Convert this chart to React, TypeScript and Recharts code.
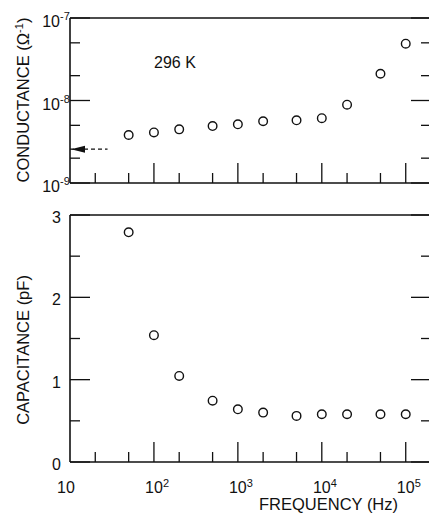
import { ScatterChart, Scatter, XAxis, YAxis, ReferenceLine, ReferenceDot } from "recharts";

const FONT = '"Liberation Sans", Arial, Helvetica, sans-serif';
const INK = "#111";

const frequencies = [50, 100, 200, 500, 1000, 2000, 5000, 10000, 20000, 50000, 100000];
const conductance = [3.82e-9, 4.1e-9, 4.47e-9, 4.9e-9, 5.15e-9, 5.6e-9, 5.75e-9, 6.1e-9, 8.9e-9, 2.11e-8, 4.88e-8];
const capacitance = [2.79, 1.54, 1.045, 0.745, 0.64, 0.6, 0.56, 0.58, 0.58, 0.58, 0.58];

const freqTicks = [10, 20, 50, 100, 200, 500, 1000, 2000, 5000, 10000, 20000, 50000, 100000];
const conductanceTicks = [1e-9, 2e-9, 5e-9, 1e-8, 2e-8, 5e-8, 1e-7];
const capacitanceTicks = [0, 0.5, 1, 1.5, 2, 2.5, 3];

// dc conductance arrow
const dcConductance = 2.57e-9;
const dcArrowTail = 28;

const freqDomain: [number, number] = [10, 2e5];
const conductanceDomain: [number, number] = [1e-9, 1e-7];
const capacitanceDomain: [number, number] = [0, 3];

const conductanceData = frequencies.map((f, i) => ({ f, g: conductance[i] }));
const capacitanceData = frequencies.map((f, i) => ({ f, c: capacitance[i] }));

const MAJOR = 20;
const MINOR = 10;

const isDecade = (v: number) =>
  v > 0 && Math.abs(Math.log10(v) - Math.round(Math.log10(v))) < 1e-6;

function OpenCircle({ cx, cy }: any) {
  if (cx == null || cy == null) return null;
  return <circle cx={cx} cy={cy} r={4.3} fill="#fff" stroke={INK} strokeWidth={1.4} />;
}

function FreqTick({ x, y, payload, side, labels }: any) {
  const v = payload.value;
  const major = isDecade(v);
  const dir = side === "top" ? 1 : -1;
  const exp = Math.round(Math.log10(v));
  return (
    <g>
      {v !== freqDomain[0] && (
        <line x1={x} x2={x} y1={y} y2={y + dir * (major ? MAJOR : MINOR)} stroke={INK} strokeWidth={1.3} />
      )}
      {labels && major && exp === 1 && (
        <text x={x - 4} y={y + 31} textAnchor="middle" fontSize={16} fontFamily={FONT} fill={INK}>10</text>
      )}
      {labels && major && exp > 1 && (
        <g>
          <text x={x} y={y + 31} textAnchor="middle" fontSize={16} fontFamily={FONT} fill={INK}>10</text>
          <text x={x + 9} y={y + 25} textAnchor="start" fontSize={11} fontFamily={FONT} fill={INK}>{exp}</text>
        </g>
      )}
    </g>
  );
}

function LogYTick({ x, y, payload, side, labels }: any) {
  const v = payload.value;
  const major = isDecade(v);
  const dir = side === "left" ? 1 : -1;
  const exp = Math.round(Math.log10(v));
  return (
    <g>
      <line x1={x} x2={x + dir * (major ? MAJOR : MINOR)} y1={y} y2={y} stroke={INK} strokeWidth={1.3} />
      {labels && major && (
        <g>
          <text x={x - 10} y={y + 9} textAnchor="end" fontSize={16} fontFamily={FONT} fill={INK}>10</text>
          <text x={x - 10} y={y + 2} textAnchor="start" fontSize={11} fontFamily={FONT} fill={INK}>{exp}</text>
        </g>
      )}
    </g>
  );
}

function LinYTick({ x, y, payload, side, labels }: any) {
  const v = payload.value;
  const major = Number.isInteger(v);
  const dir = side === "left" ? 1 : -1;
  return (
    <g>
      <line x1={x} x2={x + dir * (major ? MAJOR : MINOR)} y1={y} y2={y} stroke={INK} strokeWidth={1.3} />
      {labels && major && (
        <text x={x - 9} y={y + 8} textAnchor="end" fontSize={16} fontFamily={FONT} fill={INK}>{v}</text>
      )}
    </g>
  );
}

function ArrowHead({ cx, cy }: any) {
  if (cx == null || cy == null) return null;
  return <polygon points={`${cx + 1},${cy} ${cx + 15},${cy - 3.5} ${cx + 15},${cy + 3.5}`} fill={INK} />;
}

function ConductanceTitle() {
  return (
    <text x={29} y={100} transform="rotate(-90 29 100)" textAnchor="middle" fontSize={16.5} fontFamily={FONT} fill={INK}>
      CONDUCTANCE (Ω<tspan dy={-6} fontSize={11}>-1</tspan><tspan dy={6}>)</tspan>
    </text>
  );
}

function CapacitanceTitle() {
  return (
    <text x={29} y={150} transform="rotate(-90 29 150)" textAnchor="middle" fontSize={16.5} fontFamily={FONT} fill={INK}>
      CAPACITANCE (pF)
    </text>
  );
}

function TemperatureNote() {
  return <text x={154} y={68} fontSize={16} fontFamily={FONT} fill={INK}>296 K</text>;
}

function FrequencyTitle() {
  return <text x={259} y={310} fontSize={16.5} fontFamily={FONT} fill={INK}>FREQUENCY (Hz)</text>;
}

const axisLine = { stroke: INK, strokeWidth: 1.6 };

export default function App() {
  return (
    <div style={{ position: "absolute", left: 0, top: 0, width: 429, height: 516, overflow: "hidden", background: "#fff" }}>
      <div style={{ position: "absolute", left: 0, top: 0 }}>
        <ScatterChart width={440} height={200} margin={{ top: 17, right: 8, bottom: 16, left: 0 }}>
          <XAxis
            dataKey="f" type="number" scale="log" domain={freqDomain} allowDataOverflow
            ticks={freqTicks} interval={0} height={1} tickSize={0} tickMargin={0} tickLine={false}
            axisLine={axisLine} tick={<FreqTick side="bottom" labels={false} />}
          />
          <XAxis
            xAxisId="top" orientation="top" type="number" scale="log" domain={freqDomain} allowDataOverflow
            ticks={freqTicks} interval={0} height={1} tickSize={0} tickMargin={0} tickLine={false}
            axisLine={axisLine} tick={<FreqTick side="top" labels={false} />} label={<TemperatureNote />}
          />
          <YAxis
            dataKey="g" type="number" scale="log" domain={conductanceDomain} allowDataOverflow
            ticks={conductanceTicks} interval={0} width={70} tickSize={0} tickMargin={0} tickLine={false}
            axisLine={axisLine} tick={<LogYTick side="left" labels />} label={<ConductanceTitle />}
          />
          <YAxis
            yAxisId="right" orientation="right" type="number" scale="log" domain={conductanceDomain} allowDataOverflow
            ticks={conductanceTicks} interval={0} width={1} tickSize={0} tickMargin={0} tickLine={false}
            axisLine={axisLine} tick={<LogYTick side="right" labels={false} />}
          />
          <ReferenceLine
            segment={[{ x: freqDomain[0], y: dcConductance }, { x: dcArrowTail, y: dcConductance }]}
            stroke={INK} strokeWidth={1.2} strokeDasharray="4 3"
          />
          <ReferenceDot x={freqDomain[0]} y={dcConductance} shape={<ArrowHead />} />
          <Scatter data={conductanceData} shape={<OpenCircle />} isAnimationActive={false} />
        </ScatterChart>
      </div>
      <div style={{ position: "absolute", left: 0, top: 200 }}>
        <ScatterChart width={440} height={316} margin={{ top: 14, right: 8, bottom: 0, left: 0 }}>
          <XAxis
            dataKey="f" type="number" scale="log" domain={freqDomain} allowDataOverflow
            ticks={freqTicks} interval={0} height={54} tickSize={0} tickMargin={0} tickLine={false}
            axisLine={axisLine} tick={<FreqTick side="bottom" labels />} label={<FrequencyTitle />}
          />
          <XAxis
            xAxisId="top" orientation="top" type="number" scale="log" domain={freqDomain} allowDataOverflow
            ticks={freqTicks} interval={0} height={1} tickSize={0} tickMargin={0} tickLine={false}
            axisLine={axisLine} tick={<FreqTick side="top" labels={false} />}
          />
          <YAxis
            dataKey="c" type="number" domain={capacitanceDomain} allowDataOverflow
            ticks={capacitanceTicks} interval={0} width={70} tickSize={0} tickMargin={0} tickLine={false}
            axisLine={axisLine} tick={<LinYTick side="left" labels />} label={<CapacitanceTitle />}
          />
          <YAxis
            yAxisId="right" orientation="right" type="number" domain={capacitanceDomain} allowDataOverflow
            ticks={capacitanceTicks} interval={0} width={1} tickSize={0} tickMargin={0} tickLine={false}
            axisLine={axisLine} tick={<LinYTick side="right" labels={false} />}
          />
          <Scatter data={capacitanceData} shape={<OpenCircle />} isAnimationActive={false} />
        </ScatterChart>
      </div>
    </div>
  );
}
